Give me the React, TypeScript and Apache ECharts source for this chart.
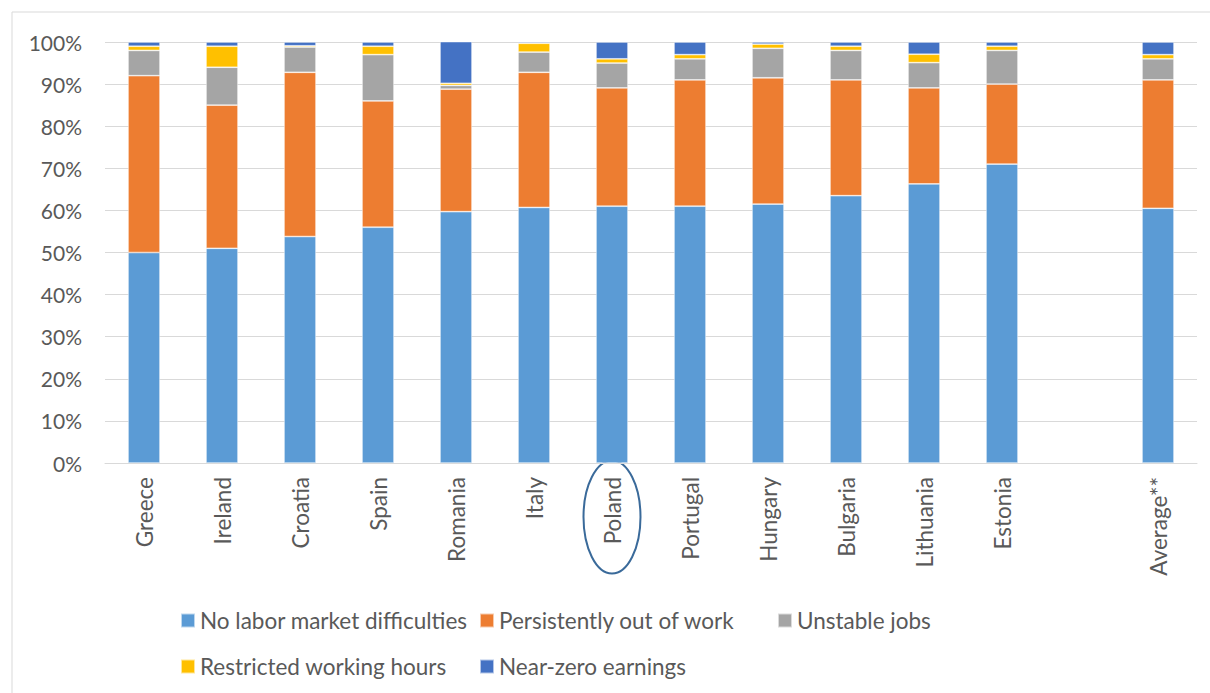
import React, { useEffect, useRef } from "react";
import * as echarts from "echarts";

const categories = ["Greece", "Ireland", "Croatia", "Spain", "Romania", "Italy", "Poland", "Portugal", "Hungary", "Bulgaria", "Lithuania", "Estonia", "", "Average**"];

const noDifficulties = [50, 51, 53.8, 56, 59.7, 60.7, 61, 61, 61.5, 63.5, 66.3, 71, null, 60.5];
const outOfWork = [42, 34, 39, 30, 29.1, 32.1, 28.1, 30, 30, 27.5, 22.8, 19, null, 30.5];
const unstableJobs = [6, 9, 6, 11, 0.9, 4.8, 5.9, 5, 7, 7, 6, 8, null, 5];
const restrictedHours = [1, 5, 0.3, 2, 0.5, 2.1, 1, 1, 1, 1, 2, 1, null, 1];
const nearZero = [1, 1, 0.9, 1, 9.9, 0.3, 4, 3, 0.5, 1, 2.9, 1, null, 3];

const seriesNames = ["No labor market difficulties", "Persistently out of work", "Unstable jobs", "Restricted working hours", "Near-zero earnings"];
const seriesData = [noDifficulties, outOfWork, unstableJobs, restrictedHours, nearZero];
const colors = ["#5B9BD5", "#ED7D31", "#A5A5A5", "#FFC000", "#4472C4"];

const yTicks = [0, 10, 20, 30, 40, 50, 60, 70, 80, 90, 100];

const FONT = "Lato";
const TEXT = "#595959";

export default function App() {
  const ref = useRef<HTMLDivElement>(null);
  useEffect(() => {
    if (!ref.current) return;
    const chart = echarts.init(ref.current, null, { renderer: "svg" });
    const legendPos = [
      { left: 180, top: 609 },
      { left: 479, top: 609 },
      { left: 777, top: 609 },
      { left: 180, top: 655 },
      { left: 479, top: 655 },
    ];
    chart.setOption({
      animation: false,
      backgroundColor: "#ffffff",
      textStyle: { fontFamily: FONT },
      grid: { left: 105, right: 13, top: 42, bottom: 230, containLabel: false },
      legend: seriesNames.map((n, i) => ({
        data: [n],
        left: legendPos[i].left,
        top: legendPos[i].top,
        padding: 0,
        itemWidth: 14,
        itemHeight: 14,
        icon: "rect",
        selectedMode: false,
        textStyle: { fontFamily: FONT, fontSize: 22.5, color: TEXT, padding: [0, 0, 0, 0] },
      })),
      xAxis: {
        type: "category",
        data: categories,
        axisTick: { show: false },
        axisLine: { lineStyle: { color: "#d9d9d9", width: 1 } },
        axisLabel: {
          interval: 0,
          rotate: 90,
          margin: 14,
          color: TEXT,
          fontSize: 22.5,
          fontFamily: FONT,
        },
      },
      yAxis: {
        type: "value",
        min: yTicks[0],
        max: yTicks[yTicks.length - 1],
        interval: 10,
        axisLine: { show: false },
        axisTick: { show: false },
        splitLine: { lineStyle: { color: "#d9d9d9", width: 1 } },
        axisLabel: {
          formatter: "{value}%",
          margin: 23,
          color: TEXT,
          fontSize: 21,
          fontFamily: FONT,
        },
      },
      series: seriesNames.map((n, i) => ({
        name: n,
        type: "bar",
        stack: "total",
        barWidth: 32,
        data: seriesData[i],
        itemStyle: { color: colors[i], borderColor: "rgba(255,255,255,0.6)", borderWidth: 0.75 },
      })),
      graphic: [
        {
          type: "rect",
          shape: { x: 12, y: 12, width: 1250, height: 750 },
          style: { fill: "none", stroke: "#d9d9d9", lineWidth: 1 },
          silent: true,
        },
        {
          type: "ellipse",
          shape: { cx: 612, cy: 517, rx: 28.5, ry: 56.5 },
          style: { fill: "none", stroke: "#3A6A9A", lineWidth: 2 },
          silent: true,
        },
      ],
    });
    return () => chart.dispose();
  }, []);
  return <div ref={ref} style={{ position: "fixed", left: 0, top: 0, width: 1210, height: 693 }} />;
}
